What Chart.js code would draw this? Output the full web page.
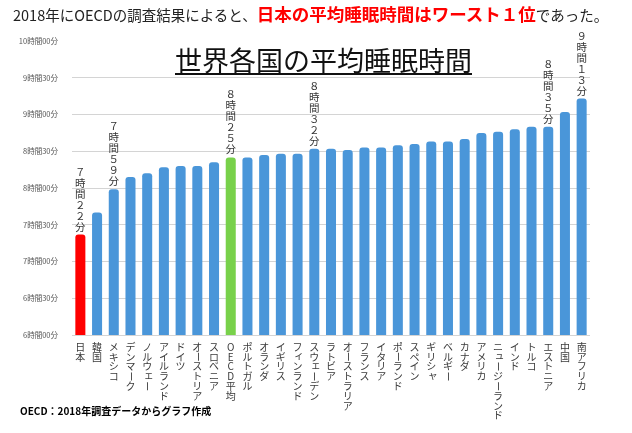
<!DOCTYPE html>
<html lang="ja">
<head>
<meta charset="utf-8">
<script src="https://cdn.jsdelivr.net/npm/chart.js@4"></script>
<style>
  html, body { margin: 0; padding: 0; background: #fff; }
  #wrap { position: relative; width: 632px; height: 433px; overflow: hidden; font-family: "Noto Sans CJK JP", sans-serif; }
  #headline { position: absolute; left: 13px; top: 0; height: 27px; line-height: 27px; white-space: nowrap; color: #222; font-size: 14.5px; }
  #headline .hot { color: #ff0000; font-weight: bold; font-size: 17.5px; }
  #chartTitle { position: absolute; left: 175px; top: 46px; font-size: 27px; line-height: 27px; color: #111; border-bottom: 2px solid #111; white-space: nowrap; }
  #source { position: absolute; left: 20px; top: 404px; font-size: 10px; line-height: 14px; font-weight: bold; color: #000; white-space: nowrap; }
  canvas { position: absolute; left: 0; top: 0; }
</style>
</head>
<body>
<div id="wrap">
  <canvas id="sleepChart" width="632" height="433"></canvas>
  <div id="headline">2018年にOECDの調査結果によると、<span class="hot">日本の平均睡眠時間はワースト１位</span>であった。</div>
  <div id="chartTitle">世界各国の平均睡眠時間</div>
  <div id="source">OECD：2018年調査データからグラフ作成</div>
</div>
<script>
// countries, worst to best
const countries = ['日本', '韓国', 'メキシコ', 'デンマーク', 'ノルウェー', 'アイルランド', 'ドイツ', 'オーストリア',
  'スロベニア', 'OECD平均', 'ポルトガル', 'オランダ', 'イギリス', 'フィンランド', 'スウェーデン', 'ラトビア',
  'オーストラリア', 'フランス', 'イタリア', 'ポーランド', 'スペイン', 'ギリシャ', 'ベルギー', 'カナダ', 'アメリカ',
  'ニュージーランド', 'インド', 'トルコ', 'エストニア', '中国', '南アフリカ'];

// average sleep per day, in minutes
const sleepMinutes = [442, 460, 479, 489, 492, 497, 498, 498, 501, 505, 505, 507, 508, 508, 512, 512,
  511, 513, 513, 515, 516, 518, 518, 520, 525, 526, 528, 530, 530, 542, 553];

// y-axis ticks (minutes): 6時間00分 .. 10時間00分
const yMin = 360, yMax = 600, yStep = 30;

// value notes written above some bars
const noteIndex = [0, 2, 9, 14, 28, 30];
const noteText = ['７時間２２分', '７時間５９分', '８時間２５分', '８時間３２分', '８時間３５分', '９時間１３分'];

const BLUE = '#4a96d9', RED = '#ff0000', GREEN = '#78d14a';
const FONT = '"Noto Sans CJK JP", sans-serif';

function barColor(label, i) {
  if (i === 0) return RED;
  if (label === 'OECD平均') return GREEN;
  return BLUE;
}

function fmtTime(v) {
  const h = Math.floor(v / 60);
  const m = v % 60;
  return h + '時間' + String(m).padStart(2, '0') + '分';
}

const SMALL_KANA = 'ァィゥェォッャュョ';

// draw a string top-to-bottom, one char per line, long vowel mark turned upright
function drawVertical(ctx, text, x, yFirst, pitch) {
  [...text].forEach((ch, j) => {
    const y = yFirst + j * pitch;
    if (ch === 'ー') {
      ctx.save();
      ctx.translate(x, y);
      ctx.rotate(Math.PI / 2);
      ctx.fillText(ch, 0, 0);
      ctx.restore();
    } else if (SMALL_KANA.includes(ch)) {
      ctx.fillText(ch, x + 1.5, y - 1.5);
    } else {
      ctx.fillText(ch, x, y);
    }
  });
}

const verticalLabels = {
  id: 'verticalLabels',
  afterDraw(chart) {
    const ctx = chart.ctx;
    const xs = chart.scales.x;
    ctx.save();
    ctx.textAlign = 'center';
    ctx.textBaseline = 'middle';

    // category names under the axis
    ctx.font = '10px ' + FONT;
    ctx.fillStyle = '#3a3a3a';
    countries.forEach((name, i) => {
      drawVertical(ctx, name, xs.getPixelForValue(i), 347, 9.8);
    });

    // notes above bars
    const meta = chart.getDatasetMeta(0);
    ctx.font = '10.5px ' + FONT;
    ctx.fillStyle = '#333';
    noteIndex.forEach((idx, k) => {
      const bar = meta.data[idx];
      const chars = [...noteText[k]];
      const pitch = 11;
      const yLast = bar.y - 8;
      drawVertical(ctx, noteText[k], bar.x, yLast - (chars.length - 1) * pitch, pitch);
    });
    ctx.restore();
  }
};

new Chart(document.getElementById('sleepChart'), {
  type: 'bar',
  data: {
    labels: countries,
    datasets: [{
      data: sleepMinutes,
      backgroundColor: countries.map(barColor),
      borderRadius: { topLeft: 3, topRight: 3, bottomLeft: 0, bottomRight: 0 },
      borderSkipped: 'start',
      barPercentage: 0.6,
      categoryPercentage: 1
    }]
  },
  options: {
    responsive: false,
    animation: false,
    layout: { padding: { top: 41, right: 42, bottom: 0, left: 0 } },
    plugins: { legend: { display: false }, tooltip: { enabled: false } },
    scales: {
      x: {
        grid: { display: false },
        border: { display: false },
        ticks: { display: false },
        afterFit(scale) { scale.height = 98; }
      },
      y: {
        min: yMin,
        max: yMax,
        border: { display: false },
        grid: {
          drawTicks: false,
          color: c => (c.tick && c.tick.value === yMax) ? 'rgba(0,0,0,0)' : '#d4d4d4'
        },
        ticks: {
          stepSize: yStep,
          padding: 14,
          color: '#555',
          font: { family: FONT, size: 7.5 },
          callback: v => fmtTime(v)
        },
        afterFit(scale) { scale.width = 72; }
      }
    }
  },
  plugins: [verticalLabels]
});
</script>
</body>
</html>
